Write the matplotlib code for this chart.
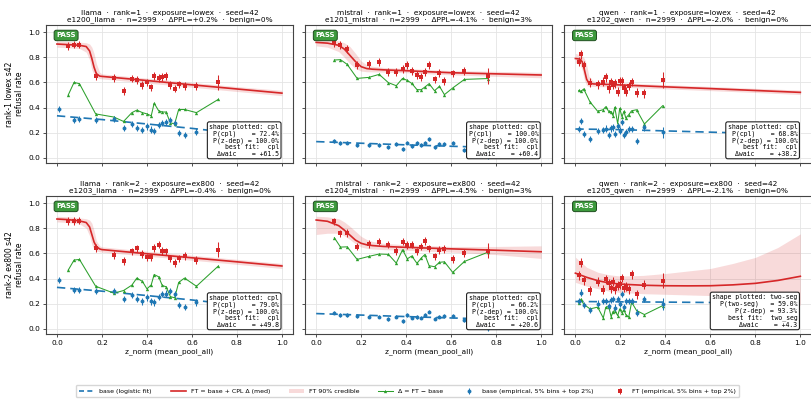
import numpy as np
import matplotlib
matplotlib.use("Agg")
import matplotlib.pyplot as plt
from matplotlib.lines import Line2D
from matplotlib.patches import Patch

plt.rcParams["font.family"] = "DejaVu Sans"

BLUE = "#1f77b4"
RED = "#d62728"
GREEN = "#2ca02c"

# ---- binned empirical rates (5% bins + top 2%) ----
llama_z = [0.05, 0.076, 0.10, 0.172, 0.253, 0.296, 0.333, 0.355, 0.38, 0.40, 0.419,
           0.432, 0.452, 0.468, 0.485, 0.504, 0.523, 0.541, 0.567, 0.62, 0.717]
llama_base_z = [0.008, 0.076, 0.10, 0.172, 0.253, 0.296, 0.333, 0.355, 0.38, 0.40, 0.419,
                0.432, 0.452, 0.468, 0.485, 0.504, 0.523, 0.541, 0.567, 0.62, 0.717]
llama1_ft = [0.89, 0.90, 0.90, 0.65, 0.635, 0.53, 0.63, 0.62, 0.58, 0.60, 0.56,
             0.65, 0.635, 0.645, 0.65, 0.58, 0.55, 0.585, 0.57, 0.57, 0.60]
llama1_base = [0.39, 0.30, 0.31, 0.30, 0.31, 0.24, 0.27, 0.24, 0.22, 0.25, 0.225,
               0.215, 0.26, 0.28, 0.285, 0.30, 0.28, 0.20, 0.185, 0.21, 0.135]
llama2_ft = [0.855, 0.855, 0.86, 0.642, 0.587, 0.541, 0.616, 0.64, 0.595, 0.568, 0.568,
             0.642, 0.669, 0.621, 0.616, 0.56, 0.523, 0.56, 0.579, 0.549, 0.629]
llama2_base = [0.388, 0.308, 0.308, 0.303, 0.303, 0.236, 0.268, 0.236, 0.218, 0.25, 0.218,
               0.21, 0.255, 0.276, 0.281, 0.303, 0.276, 0.191, 0.175, 0.21, 0.13]

mistral_z = [0.081, 0.108, 0.138, 0.182, 0.234, 0.280, 0.321, 0.356, 0.384, 0.405, 0.425,
             0.448, 0.467, 0.483, 0.502, 0.526, 0.548, 0.570, 0.607, 0.659, 0.766]
mistral1_ft = [0.915, 0.897, 0.865, 0.738, 0.746, 0.764, 0.685, 0.685, 0.706, 0.738, 0.69,
               0.659, 0.645, 0.685, 0.738, 0.624, 0.677, 0.611, 0.672, 0.69, 0.651]
mistral1_base = [0.137, 0.116, 0.122, 0.106, 0.106, 0.10, 0.087, 0.111, 0.074, 0.122, 0.098,
                 0.116, 0.103, 0.122, 0.148, 0.09, 0.108, 0.108, 0.116, 0.066, 0.02]
mistral2_ft = [0.854, 0.759, 0.763, 0.653, 0.674, 0.693, 0.669, 0.621, 0.693, 0.666, 0.669,
               0.616, 0.653, 0.70, 0.64, 0.576, 0.627, 0.634, 0.555, 0.603, 0.621]
mistral2_base = [0.13, 0.109, 0.111, 0.101, 0.098, 0.098, 0.077, 0.098, 0.064, 0.109, 0.09,
                 0.095, 0.09, 0.109, 0.138, 0.082, 0.098, 0.101, 0.106, 0.067, 0.01]

qwen_z = [0.015, 0.025, 0.037, 0.065, 0.099, 0.124, 0.135, 0.148, 0.159, 0.167, 0.175,
          0.188, 0.197, 0.207, 0.216, 0.224, 0.237, 0.25, 0.272, 0.307, 0.388]
qwen1_ft = [0.764, 0.825, 0.738, 0.598, 0.585, 0.606, 0.64, 0.553, 0.603, 0.579, 0.593,
            0.526, 0.611, 0.611, 0.553, 0.526, 0.571, 0.603, 0.518, 0.513, 0.619]
qwen1_base = [0.228, 0.296, 0.19, 0.153, 0.214, 0.222, 0.233, 0.183, 0.235, 0.243, 0.19,
              0.254, 0.217, 0.283, 0.183, 0.209, 0.228, 0.228, 0.135, 0.243, 0.204]
qwen2_ft = [0.427, 0.525, 0.387, 0.308, 0.374, 0.31, 0.395, 0.361, 0.324, 0.374, 0.316,
            0.342, 0.356, 0.404, 0.329, 0.337, 0.316, 0.435, 0.276, 0.35, 0.382]
qwen2_base = [0.223, 0.289, 0.191, 0.149, 0.201, 0.223, 0.223, 0.183, 0.228, 0.236, 0.17,
              0.236, 0.197, 0.276, 0.175, 0.223, 0.223, 0.223, 0.13, 0.236, 0.197]

# error bar half-widths: (ft, base, ft top bin, base top bin)
llama_err = (0.03, 0.025, 0.06, 0.04)
mistral_err = (0.03, 0.015, 0.06, 0.03)
qwen_err = (0.035, 0.025, 0.06, 0.045)

# ---- posterior fits ----
fit_base_z = [0.0, 0.2, 0.4, 0.6, 0.8, 1.0]
llama1_base_fit = [0.335, 0.305, 0.27, 0.235, 0.195, 0.16]
llama2_base_fit = [0.33, 0.30, 0.265, 0.23, 0.19, 0.155]
mistral1_base_fit = [0.13, 0.117, 0.104, 0.093, 0.083, 0.075]
mistral2_base_fit = [0.122, 0.11, 0.098, 0.087, 0.078, 0.07]
qwen1_base_fit = [0.23, 0.225, 0.215, 0.205, 0.195, 0.185]
qwen2_base_fit = [0.218, 0.215, 0.213, 0.21, 0.208, 0.205]

llama_fit_z = [0, 0.05, 0.10, 0.13, 0.145, 0.155, 0.165, 0.175, 0.19, 0.2, 0.4, 0.6, 0.8, 1.0]
llama1_fit = [0.905, 0.90, 0.895, 0.885, 0.85, 0.79, 0.72, 0.67, 0.65, 0.648, 0.615, 0.581, 0.548, 0.515]
llama1_lo = [0.88, 0.875, 0.87, 0.84, 0.78, 0.70, 0.66, 0.64, 0.63, 0.628, 0.595, 0.562, 0.528, 0.495]
llama1_hi = [0.93, 0.925, 0.92, 0.915, 0.905, 0.88, 0.83, 0.75, 0.68, 0.668, 0.634, 0.60, 0.567, 0.537]
llama2_fit = [0.873, 0.868, 0.858, 0.845, 0.81, 0.75, 0.69, 0.655, 0.635, 0.63, 0.597, 0.565, 0.533, 0.50]
llama2_lo = [0.85, 0.845, 0.835, 0.80, 0.74, 0.67, 0.635, 0.62, 0.612, 0.61, 0.578, 0.546, 0.513, 0.48]
llama2_hi = [0.895, 0.89, 0.882, 0.875, 0.865, 0.84, 0.78, 0.70, 0.66, 0.652, 0.617, 0.585, 0.553, 0.52]

mistral_fit_z = [0, 0.05, 0.1, 0.125, 0.15, 0.175, 0.2, 0.225, 0.25, 0.3, 0.4, 0.6, 0.8, 1.0]
mistral1_fit = [0.918, 0.912, 0.895, 0.865, 0.815, 0.765, 0.725, 0.71, 0.705, 0.70, 0.693, 0.677, 0.668, 0.659]
mistral1_lo = [0.89, 0.88, 0.845, 0.80, 0.75, 0.71, 0.69, 0.685, 0.684, 0.682, 0.677, 0.66, 0.648, 0.637]
mistral1_hi = [0.945, 0.94, 0.93, 0.915, 0.885, 0.83, 0.77, 0.74, 0.728, 0.719, 0.71, 0.694, 0.688, 0.68]
mistral2_fit = [0.865, 0.855, 0.82, 0.785, 0.745, 0.705, 0.68, 0.668, 0.662, 0.655, 0.648, 0.636, 0.625, 0.613]
mistral2_lo = [0.75, 0.76, 0.76, 0.74, 0.71, 0.675, 0.65, 0.64, 0.635, 0.63, 0.625, 0.61, 0.59, 0.56]
mistral2_hi = [0.895, 0.89, 0.875, 0.85, 0.815, 0.775, 0.735, 0.71, 0.695, 0.68, 0.668, 0.655, 0.655, 0.66]

qwen1_fit_z = [0, 0.02, 0.03, 0.04, 0.05, 0.06, 0.08, 0.1, 0.2, 0.4, 0.6, 0.8, 1.0]
qwen1_fit = [0.79, 0.785, 0.765, 0.70, 0.625, 0.595, 0.588, 0.587, 0.58, 0.565, 0.551, 0.536, 0.521]
qwen1_lo = [0.755, 0.745, 0.70, 0.62, 0.575, 0.57, 0.568, 0.567, 0.562, 0.549, 0.535, 0.52, 0.504]
qwen1_hi = [0.83, 0.82, 0.81, 0.79, 0.74, 0.65, 0.61, 0.605, 0.598, 0.582, 0.568, 0.553, 0.539]

qwen2_fit_z = [0, 0.05, 0.1, 0.15, 0.2, 0.3, 0.4, 0.5, 0.6, 0.7, 0.8, 0.9, 1.0]
qwen2_fit = [0.443, 0.41, 0.383, 0.365, 0.356, 0.347, 0.343, 0.342, 0.343, 0.35, 0.362, 0.385, 0.418]
qwen2_lo = [0.37, 0.34, 0.32, 0.30, 0.29, 0.28, 0.275, 0.27, 0.265, 0.255, 0.24, 0.22, 0.19]
qwen2_hi = [0.57, 0.49, 0.45, 0.43, 0.42, 0.425, 0.44, 0.46, 0.48, 0.52, 0.568, 0.647, 0.755]

# ---- panel text ----
models = ["llama", "mistral", "qwen"]
exposures = ["lowex", "ex800"]
run_ids = [["e1200", "e1201", "e1202"], ["e1203", "e1204", "e1205"]]
dppl = [["+0.2", "-4.1", "-2.0"], ["-0.4", "-4.5", "-2.1"]]
benign = [["0", "3", "0"], ["0", "3", "0"]]
shape = [["cpl", "cpl", "cpl"], ["cpl", "cpl", "two-seg"]]
best_fit = [["cpl", "cpl", "cpl"], ["cpl", "cpl", "two_seg"]]
p_shape = [[72.4, 100.0, 68.8], [79.0, 66.2, 59.0]]
p_zdep = [[100.0, 100.0, 100.0], [100.0, 100.0, 93.3]]
dwaic = [[61.5, 60.4, 38.2], [49.8, 20.6, 4.3]]

panels = [
    [(llama_z, llama_base_z, llama1_ft, llama1_base, llama_err,
      llama_fit_z, llama1_fit, llama1_lo, llama1_hi, llama1_base_fit),
     (mistral_z, mistral_z, mistral1_ft, mistral1_base, mistral_err,
      mistral_fit_z, mistral1_fit, mistral1_lo, mistral1_hi, mistral1_base_fit),
     (qwen_z, qwen_z, qwen1_ft, qwen1_base, qwen_err,
      qwen1_fit_z, qwen1_fit, qwen1_lo, qwen1_hi, qwen1_base_fit)],
    [(llama_z, llama_base_z, llama2_ft, llama2_base, llama_err,
      llama_fit_z, llama2_fit, llama2_lo, llama2_hi, llama2_base_fit),
     (mistral_z, mistral_z, mistral2_ft, mistral2_base, mistral_err,
      mistral_fit_z, mistral2_fit, mistral2_lo, mistral2_hi, mistral2_base_fit),
     (qwen_z, qwen_z, qwen2_ft, qwen2_base, qwen_err,
      qwen2_fit_z, qwen2_fit, qwen2_lo, qwen2_hi, qwen2_base_fit)],
]

fig, axes = plt.subplots(2, 3, figsize=(8.12, 3.99), dpi=100, sharex=True, sharey=True)
fig.subplots_adjust(left=0.0563, right=0.9995, top=0.937, bottom=0.163, wspace=0.0475, hspace=0.24)

for r in range(2):
    for c in range(3):
        ax = axes[r, c]
        z, bz, ft, base, err, fz, fit, lo, hi, bfit = panels[r][c]
        n = len(z)
        ft_err = [err[0]] * (n - 1) + [err[2]]
        base_err = [err[1]] * (n - 1) + [err[3]]

        ax.fill_between(fz, lo, hi, color=RED, alpha=0.17, lw=0, zorder=1)
        ax.plot(fz, fit, color=RED, lw=1.2, zorder=3)
        ax.plot(fit_base_z, bfit, color=BLUE, lw=1.2, ls=(0, (5, 3)), zorder=3)
        delta = np.array(ft) - np.array(base)
        ax.plot(z, delta, color=GREEN, lw=0.75, marker="^", ms=2.4, mew=0, zorder=4)
        eb_base = ax.errorbar(bz, base, yerr=base_err, fmt="o", ms=2.8, mew=0, color=BLUE,
                              elinewidth=0.75, capsize=0, zorder=5)
        eb_ft = ax.errorbar(z, ft, yerr=ft_err, fmt="s", ms=2.6, mew=0, color=RED,
                            elinewidth=0.75, capsize=0, zorder=5)

        ax.set_xlim(-0.05, 1.05)
        ax.set_ylim(-0.04, 1.055)
        ax.set_xticks([0, 0.2, 0.4, 0.6, 0.8, 1.0])
        ax.set_yticks([0, 0.2, 0.4, 0.6, 0.8, 1.0])
        ax.grid(True, color="#e4e4e4", lw=0.6)
        ax.set_axisbelow(True)
        ax.tick_params(labelsize=5.3, length=2.5, width=0.6, color="#333333", pad=1.5)
        for sp in ax.spines.values():
            sp.set_color("#444444")
            sp.set_linewidth(0.8)

        m = models[c]
        ax.set_title(f"{m}  ·  rank={r + 1}  ·  exposure={exposures[r]}  ·  seed=42\n"
                     f"{run_ids[r][c]}_{m}  ·  n=2999  ·  ΔPPL={dppl[r][c]}%  ·  benign={benign[r][c]}%",
                     fontsize=5.3, pad=2.5, linespacing=1.15)

        ax.text(0.043, 0.947, "PASS", transform=ax.transAxes, ha="left", va="top",
                fontsize=5.0, fontweight="bold", color="white", zorder=10,
                bbox=dict(boxstyle="round,pad=0.32", fc="#3d9a3d", ec="#1f4f1f", lw=0.7))

        lab = f"P({shape[r][c]})"
        lab = lab.ljust(max(10, len(lab) + 3))
        box = (f"shape plotted: {shape[r][c]}\n"
               f"{lab}= {p_shape[r][c]:.1f}%\n"
               f"P(z-dep) = {p_zdep[r][c]:.1f}%\n"
               f"best fit:  {best_fit[r][c]}\n"
               f"Δwaic    = {dwaic[r][c]:+.1f}")
        ax.text(0.943, 0.045, box, transform=ax.transAxes, ha="right", va="bottom",
                multialignment="right", family="DejaVu Sans Mono", fontsize=4.7,
                linespacing=1.1, zorder=10,
                bbox=dict(boxstyle="round,pad=0.3", fc="white", ec="#222222", lw=0.8))

        if r == 1:
            ax.set_xlabel("z_norm (mean_pool_all)", fontsize=5.3, labelpad=2)
    axes[r, 0].set_ylabel(f"rank-{r + 1} {exposures[r]} s42\nrefusal rate", fontsize=5.5, labelpad=3)

handles = [
    Line2D([], [], color=BLUE, lw=1.2, ls=(0, (3, 2))),
    Line2D([], [], color=RED, lw=1.2),
    Patch(facecolor=RED, alpha=0.17, lw=0),
    Line2D([], [], color=GREEN, lw=0.75, marker="^", ms=2.4, mew=0),
    eb_base,
    eb_ft,
]
labels = ["base (logistic fit)", "FT = base + CPL Δ (med)", "FT 90% credible",
          "Δ = FT − base", "base (empirical, 5% bins + top 2%)", "FT (empirical, 5% bins + top 2%)"]
fig.legend(handles, labels, loc="lower center", bbox_to_anchor=(0.502, -0.004), ncol=6,
           fontsize=4.5, frameon=True, edgecolor="#cccccc", fancybox=True,
           handlelength=2.4, columnspacing=3.0, borderpad=0.55)

fig.savefig("out.png", dpi=100)
